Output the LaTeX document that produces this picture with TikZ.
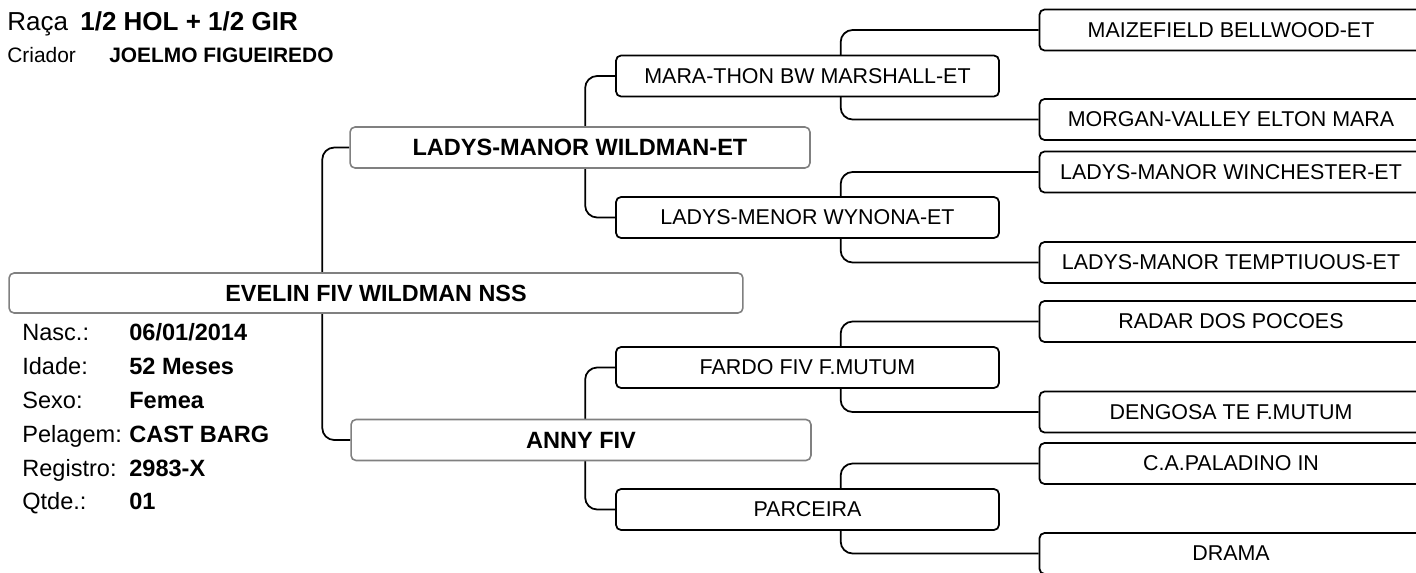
\documentclass[tikz,border=0pt]{standalone}
\usepackage{fontspec}
\setmainfont{Liberation Sans}
\usetikzlibrary{backgrounds}
\definecolor{cinza}{gray}{0.5}

\begin{document}
\begin{tikzpicture}[
    x=0.02cm, y=-0.02cm,
    caixa/.style = {draw, rounded corners=0.1cm, fill=white, inner sep=0pt, line width=1pt},
    animal/.style = {caixa, draw=cinza, line width=0.9pt, minimum width=14.68cm, minimum height=0.8cm, font=\fontsize{13.3}{16}\selectfont\bfseries},
    pais/.style = {caixa, draw=cinza, line width=0.9pt, minimum width=9.2cm, minimum height=0.82cm, font=\fontsize{13.4}{16}\selectfont\bfseries},
    avos/.style = {caixa, minimum width=7.66cm, minimum height=0.82cm, font=\fontsize{12.2}{14}\selectfont},
    ligacao/.style = {line width=1pt, rounded corners=0.24cm},
    rotulo/.style = {anchor=base west, inner sep=0pt, font=\fontsize{13.4}{15}\selectfont},
    valor/.style = {anchor=base west, inner sep=0pt, font=\fontsize{13.4}{15}\selectfont\bfseries}
]
    \useasboundingbox (0,0) rectangle (1416,572);
    \clip (0,0) rectangle (1416,572);

    % --- Cabecalho ---
    \node[rotulo, font=\fontsize{14.8}{17}\selectfont] (raca) at (7,30) {Raça};
    \node[valor, font=\fontsize{14.8}{17}\selectfont\bfseries] (racav) at (80,30) {1/2 HOL + 1/2 GIR};
    \node[rotulo, font=\fontsize{11.9}{14}\selectfont] (criador) at (7,62) {Criador};
    \node[valor, font=\fontsize{11.9}{14}\selectfont\bfseries] (criadorv) at (109,62) {JOELMO FIGUEIREDO};

    % --- Animal ---
    \node[animal] (evelin) at (376,293) {EVELIN FIV WILDMAN NSS};

    \node[rotulo] (nasc) at (22,340) {Nasc.:};
    \node[valor] (nascv) at (129,340) {06/01/2014};
    \node[rotulo] (idade) at (22,374) {Idade:};
    \node[valor] (idadev) at (129,374) {52 Meses};
    \node[rotulo] (sexo) at (22,408) {Sexo:};
    \node[valor] (sexov) at (129,408) {Femea};
    \node[rotulo] (pelagem) at (22,442) {Pelagem:};
    \node[valor] (pelagemv) at (129,442) {CAST BARG};
    \node[rotulo] (registro) at (22,476) {Registro:};
    \node[valor] (registrov) at (129,476) {2983-X};
    \node[rotulo] (qtde) at (22,509) {Qtde.:};
    \node[valor] (qtdev) at (129,509) {01};

    % --- Pais ---
    \node[pais] (pai) at (580,147.5) {LADYS-MANOR WILDMAN-ET};
    \node[pais] (mae) at (581,440) {ANNY FIV};

    % --- Avos ---
    \node[avos] (mara) at (807.5,76) {MARA-THON BW MARSHALL-ET};
    \node[avos] (wynona) at (807.5,217.5) {LADYS-MENOR WYNONA-ET};
    \node[avos] (fardo) at (807.5,367.5) {FARDO FIV F.MUTUM};
    \node[avos] (parceira) at (807.5,509.5) {PARCEIRA};

    % --- Bisavos ---
    \node[avos] (maize) at (1231,30) {MAIZEFIELD BELLWOOD-ET};
    \node[avos] (morgan) at (1231,119.5) {MORGAN-VALLEY ELTON MARA};
    \node[avos] (winch) at (1231,172) {LADYS-MANOR WINCHESTER-ET};
    \node[avos] (tempt) at (1231,262.5) {LADYS-MANOR TEMPTIUOUS-ET};
    \node[avos] (radar) at (1231,321.5) {RADAR DOS POCOES};
    \node[avos] (dengosa) at (1231,412) {DENGOSA TE F.MUTUM};
    \node[avos] (paladino) at (1231,463.5) {C.A.PALADINO IN};
    \node[avos] (drama) at (1231,553.5) {DRAMA};

    % --- Ligacoes ---
    \begin{scope}[on background layer]
        \draw[ligacao] (pai.west) -- ++(-27,0) |- (mae.west);
        \draw[ligacao] (mara.west) -- ++(-30,0) |- (wynona.west);
        \draw[ligacao] (fardo.west) -- ++(-30,0) |- (parceira.west);
        \draw[ligacao] (maize.west) -- ++(-198,0) |- (morgan.west);
        \draw[ligacao] (winch.west) -- ++(-198,0) |- (tempt.west);
        \draw[ligacao] (radar.west) -- ++(-198,0) |- (dengosa.west);
        \draw[ligacao] (paladino.west) -- ++(-198,0) |- (drama.west);
    \end{scope}
\end{tikzpicture}
\end{document}
